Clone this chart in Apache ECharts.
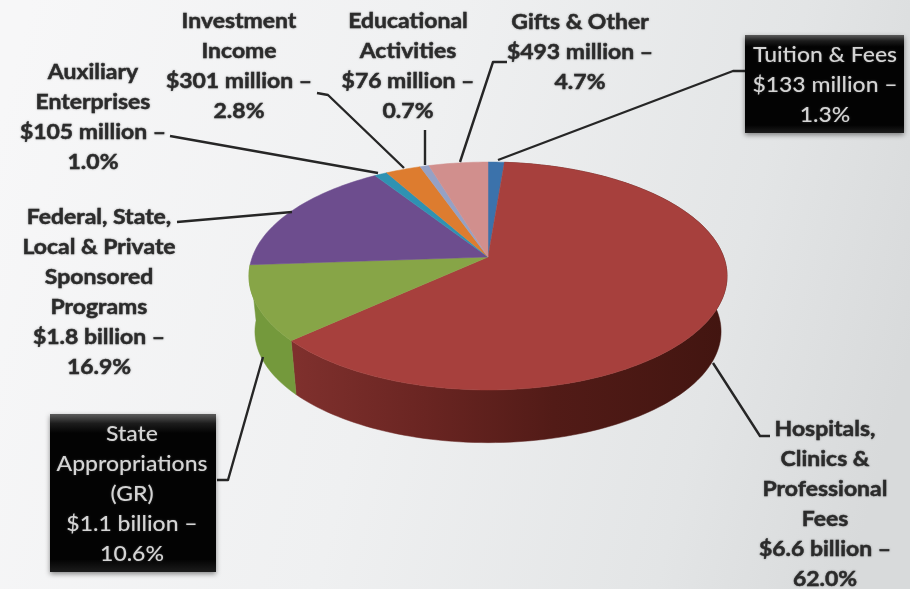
<!DOCTYPE html>
<html>
<head>
<meta charset="utf-8">
<style>html,body{margin:0;padding:0;background:#eee}#chart{width:910px;height:589px}</style>
<script src="https://cdn.jsdelivr.net/npm/echarts@6/dist/echarts.min.js"></script>
</head>
<body>
<div id="chart"></div>
<script>
// Revenue sources, in clockwise order from twelve o'clock
const categories = ['Tuition & Fees', 'Hospitals, Clinics & Professional Fees', 'State Appropriations (GR)',
  'Federal, State, Local & Private Sponsored Programs', 'Auxiliary Enterprises', 'Investment Income',
  'Educational Activities', 'Gifts & Other'];
const shares = [1.3, 62.0, 10.6, 16.9, 1.0, 2.8, 0.7, 4.7];
const amounts = ['$133 million', '$6.6 billion', '$1.1 billion', '$1.8 billion', '$105 million', '$301 million', '$76 million', '$493 million'];
const nameLines = [
  ['Tuition & Fees'],
  ['Hospitals,', 'Clinics &', 'Professional', 'Fees'],
  ['State', 'Appropriations', '(GR)'],
  ['Federal, State,', 'Local & Private', 'Sponsored', 'Programs'],
  ['Auxiliary', 'Enterprises'],
  ['Investment', 'Income'],
  ['Educational', 'Activities'],
  ['Gifts & Other']
];
const topColors = ['#3b72ab', '#a7403d', '#87a547', '#6d4d8e', '#2f92b2', '#dd7c2f', '#95a1c5', '#d18f8d'];
const wallColors = ['#2c5a88', '#6a2421', '#74993c', '#553b70', '#24748e', '#b06224', '#76809e', '#a67170'];

// Label placement: block centre, first line y, callout box and leader path
const labelLayout = [
  { cx: 825, y: 55, box: [745, 35, 159, 98], leader: [[745, 71], [733, 71], [498, 160]] },
  { cx: 825, y: 429, leader: [[770, 436], [760, 436], [713, 363]] },
  { cx: 132, y: 434, box: [50, 414, 166, 158], leader: [[217, 480], [228, 480], [263, 357]] },
  { cx: 99, y: 217, leader: [[177, 222], [292, 212]] },
  { cx: 93, y: 72, leader: [[170, 136], [378, 173]] },
  { cx: 239, y: 21, leader: [[317, 93], [328, 95], [404, 168]] },
  { cx: 408, y: 21, leader: [[425, 130], [425, 165]] },
  { cx: 580, y: 22, leader: [[507, 62], [493, 62], [460, 162]] }
];
const LINE_HEIGHT = 30;

// Perspective model of the tilted disc
const CX = 488, CY = 257, RX = 235.7, RY = 110.8, PERSP = 0.1667;
const DEPTH = 56, BASE_SCALE = 0.975;

function project(turn, lower) {
  const a = turn * 2 * Math.PI;
  const sx = Math.sin(a), sy = -Math.cos(a);
  const w = 1 - PERSP * sy;
  const s = lower ? BASE_SCALE : 1;
  return [CX + s * RX * sx / w, CY + (lower ? DEPTH : 0) + s * RY * sy / w];
}

const total = shares.reduce((a, b) => a + b, 0);
const starts = [];
shares.reduce((acc, v, i) => { starts[i] = acc; return acc + v; }, 0);

function arc(t0, t1, lower) {
  const n = Math.max(2, Math.ceil((t1 - t0) * 240));
  const pts = [];
  for (let k = 0; k <= n; k++) pts.push(project(t0 + (t1 - t0) * k / n, lower));
  return pts;
}

function sliceTurns(i) {
  return [starts[i] / total, (starts[i] + shares[i]) / total];
}

const gradient = (x0, x1, stops) =>
  new echarts.graphic.LinearGradient(x0, 0, x1, 0, stops, true);

function wallFill(i) {
  if (i === 1) {
    return gradient(295, 725, [
      { offset: 0, color: '#7f302d' }, { offset: 0.3, color: '#6a2522' },
      { offset: 0.6, color: '#521b17' }, { offset: 1, color: '#421510' }
    ]);
  }
  return wallColors[i];
}

function renderWall(params, api) {
  const i = api.value(0);
  const [t0, t1] = sliceTurns(i);
  // Only slices whose middle faces the viewer show a side wall
  if (Math.cos((t0 + t1) * Math.PI) > 0) return null;
  const points = arc(t0, t1, false).concat(arc(t0, t1, true).reverse());
  return { type: 'polygon', shape: { points }, style: { fill: wallFill(i), stroke: wallFill(i), lineWidth: 0.5 } };
}

function renderTop(params, api) {
  const i = api.value(0);
  const [t0, t1] = sliceTurns(i);
  const points = [[CX, CY]].concat(arc(t0, t1, false));
  return { type: 'polygon', shape: { points }, style: { fill: topColors[i], stroke: topColors[i], lineWidth: 0.5 } };
}

const seriesData = shares.map((v, i) => ({ name: categories[i], value: [i, v] }));

// Labels, callout boxes and leader lines
const graphics = [];
labelLayout.forEach((lay, i) => {
  graphics.push({
    type: 'polyline', silent: true, z: 10,
    shape: { points: lay.leader },
    style: { stroke: '#262626', lineWidth: 2.4, fill: null, lineJoin: 'round' }
  });
  if (lay.box) {
    graphics.push({
      type: 'rect', silent: true, z: 11,
      shape: { x: lay.box[0], y: lay.box[1], width: lay.box[2], height: lay.box[3] },
      style: {
        fill: new echarts.graphic.LinearGradient(0, 0, 0, 1, [
          { offset: 0, color: '#5c5c5c' }, { offset: 0.06, color: '#1c1c1c' },
          { offset: 0.12, color: '#030303' }, { offset: 0.92, color: '#030303' }, { offset: 1, color: '#1c1c1c' }
        ]),
        shadowBlur: 5, shadowColor: 'rgba(0,0,0,0.45)', shadowOffsetY: 2
      }
    });
  }
  const lines = nameLines[i].concat([amounts[i] + ' \u2013', shares[i].toFixed(1) + '%']);
  lines.forEach((txt, k) => {
    graphics.push({
      type: 'text', silent: true, z: 12,
      x: lay.cx, y: lay.y + k * LINE_HEIGHT, scaleX: 1.12, scaleY: 1,
      style: {
        x: 0, y: 0,
        text: txt, align: 'center', verticalAlign: 'middle',
        font: (lay.box ? '500' : 'bold') + ' 20.5px Lato',
        fill: lay.box ? '#d4d4d4' : '#2b2b2b',
        stroke: lay.box ? null : '#2b2b2b', lineWidth: lay.box ? 0 : 0.4,
        textShadowBlur: 2, textShadowColor: lay.box ? 'rgba(255,255,255,0.25)' : 'rgba(0,0,0,0.3)'
      }
    });
  });
});

const chart = echarts.init(document.getElementById('chart'));
chart.setOption({
  animation: false,
  backgroundColor: new echarts.graphic.LinearGradient(0, 0.2, 1, 0.6, [
    { offset: 0, color: '#f7f7f8' }, { offset: 0.45, color: '#eff0f1' },
    { offset: 0.8, color: '#e3e5e6' }, { offset: 1, color: '#d8dadb' }
  ]),
  series: [
    { type: 'custom', name: 'side', coordinateSystem: 'none', renderItem: renderWall, data: seriesData, silent: true, z: 1 },
    { type: 'custom', name: 'face', coordinateSystem: 'none', renderItem: renderTop, data: seriesData, silent: true, z: 2 }
  ],
  graphic: graphics
});
</script>
</body>
</html>
